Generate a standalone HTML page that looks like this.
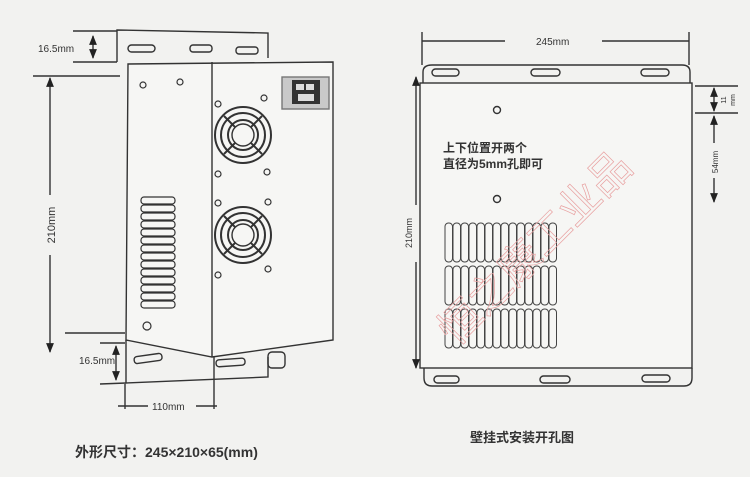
<!DOCTYPE html>
<html><head><meta charset="utf-8"><style>
html,body{margin:0;padding:0;background:#f2f2f0;}
svg{display:block}
text{font-family:"Liberation Sans","Noto Sans CJK SC",sans-serif;fill:#333}
</style></head><body>
<svg width="750" height="477" viewBox="0 0 750 477" xmlns="http://www.w3.org/2000/svg">
<defs>
<marker id="a" viewBox="0 0 10 10" refX="9" refY="5" markerWidth="7" markerHeight="7" orient="auto-start-reverse"><path d="M0,1 L10,5 L0,9 z" fill="#222"/></marker>
</defs>
<rect width="750" height="477" fill="#f2f2f0"/>
<g stroke="#333" stroke-width="1.4" fill="none">
<path d="M117,62 L117,30 L268,33 L268,58"/>
<rect x="128" y="45" width="27" height="7" rx="3.5"/>
<rect x="190" y="45" width="22" height="7" rx="3"/>
<rect x="236" y="47" width="22" height="7" rx="3"/>
<path d="M128,64 L333,62 L333,340 L212,357 L126,340 Z" fill="#f6f6f4"/>
<line x1="212" y1="62" x2="212" y2="357"/>
<rect x="282" y="77" width="47" height="32" fill="#c9c9c9" stroke="#777"/>
<rect x="292" y="80" width="28" height="24" fill="#333" stroke="none"/>
<rect x="296" y="84" width="8" height="6" fill="#ddd" stroke="none"/>
<rect x="306" y="84" width="8" height="6" fill="#ddd" stroke="none"/>
<rect x="298" y="94" width="16" height="7" fill="#ddd" stroke="none"/>
<g stroke-width="2">
<circle cx="243" cy="135" r="28"/><circle cx="243" cy="135" r="22"/><circle cx="243" cy="135" r="15"/>
<line x1="224" y1="116" x2="262" y2="154"/><line x1="262" y1="116" x2="224" y2="154"/>
<circle cx="243" cy="235" r="28"/><circle cx="243" cy="235" r="22"/><circle cx="243" cy="235" r="15"/>
<line x1="224" y1="216" x2="262" y2="254"/><line x1="262" y1="216" x2="224" y2="254"/>
</g>
<circle cx="243" cy="135" r="11" fill="#f6f6f4" stroke-width="1.4"/>
<circle cx="243" cy="235" r="11" fill="#f6f6f4" stroke-width="1.4"/>
<g stroke-width="1.2">
<circle cx="143" cy="85" r="3"/><circle cx="180" cy="82" r="3"/>
<circle cx="218" cy="104" r="3"/><circle cx="264" cy="98" r="3"/>
<circle cx="218" cy="174" r="3"/><circle cx="267" cy="172" r="3"/>
<circle cx="218" cy="203" r="3"/><circle cx="268" cy="202" r="3"/>
<circle cx="218" cy="275" r="3"/><circle cx="268" cy="269" r="3"/>
<circle cx="147" cy="326" r="4"/>
</g>
<g stroke-width="1.2">
<rect x="141" y="197" width="34" height="7" rx="3"/><rect x="141" y="205" width="34" height="7" rx="3"/>
<rect x="141" y="213" width="34" height="7" rx="3"/><rect x="141" y="221" width="34" height="7" rx="3"/>
<rect x="141" y="229" width="34" height="7" rx="3"/><rect x="141" y="237" width="34" height="7" rx="3"/>
<rect x="141" y="245" width="34" height="7" rx="3"/><rect x="141" y="253" width="34" height="7" rx="3"/>
<rect x="141" y="261" width="34" height="7" rx="3"/><rect x="141" y="269" width="34" height="7" rx="3"/>
<rect x="141" y="277" width="34" height="7" rx="3"/><rect x="141" y="285" width="34" height="7" rx="3"/>
<rect x="141" y="293" width="34" height="7" rx="3"/><rect x="141" y="301" width="34" height="7" rx="3"/>
</g>
<path d="M126,340 L126,383 L268,377 L268,357"/>
<line x1="100" y1="384" x2="126" y2="383"/>
<rect x="134" y="355" width="28" height="7" rx="3" transform="rotate(-8 148 358)"/>
<rect x="216" y="359" width="29" height="7" rx="3" transform="rotate(-4 230 362)"/>
<rect x="268" y="352" width="17" height="16" rx="4"/>
<line x1="73" y1="31" x2="117" y2="31"/><line x1="73" y1="62" x2="117" y2="62"/>
<line x1="93" y1="36" x2="93" y2="58" marker-start="url(#a)" marker-end="url(#a)"/>
<line x1="33" y1="76" x2="120" y2="76"/><line x1="65" y1="333" x2="125" y2="333"/>
<line x1="50" y1="78" x2="50" y2="195" marker-start="url(#a)"/><line x1="50" y1="255" x2="50" y2="352" marker-end="url(#a)"/>
<line x1="100" y1="343" x2="125" y2="343"/>
<line x1="116" y1="346" x2="116" y2="380" marker-start="url(#a)" marker-end="url(#a)"/>
<line x1="125" y1="384" x2="125" y2="409"/><line x1="214" y1="357" x2="214" y2="409"/>
<line x1="118" y1="406" x2="148" y2="406"/><line x1="196" y1="406" x2="217" y2="406"/>
</g>
<text x="38" y="52" font-size="10">16.5mm</text>
<text x="79" y="364" font-size="10">16.5mm</text>
<text x="152" y="410" font-size="10">110mm</text>
<text transform="translate(55,225) rotate(-90)" font-size="11" text-anchor="middle">210mm</text>
<text x="75" y="457" font-size="14" font-weight="bold" fill="#444">外形尺寸：245×210×65(mm)</text>

<g stroke="#333" stroke-width="1.4" fill="none">
<line x1="422" y1="32" x2="422" y2="65"/><line x1="689" y1="32" x2="689" y2="65"/>
<line x1="422" y1="41" x2="505" y2="41"/><line x1="602" y1="41" x2="689" y2="41"/>
<path d="M423,83 L423,72 Q423,65 432,65 L682,65 Q690,65 690,72 L690,83"/>
<rect x="432" y="69" width="27" height="7" rx="3.5"/><rect x="531" y="69" width="29" height="7" rx="3.5"/><rect x="641" y="69" width="28" height="7" rx="3.5"/>
<rect x="420" y="83" width="272" height="285" fill="#f6f6f4"/>
<path d="M424,368 L424,378 Q424,386 432,386 L684,386 Q692,386 692,378 L692,368"/>
<rect x="434" y="376" width="25" height="7" rx="3.5"/><rect x="540" y="376" width="30" height="7" rx="3.5"/><rect x="642" y="375" width="28" height="7" rx="3.5"/>
<circle cx="497" cy="110" r="3.5"/><circle cx="497" cy="199" r="3.5"/>
<line x1="416" y1="77" x2="416" y2="205" marker-start="url(#a)"/><line x1="416" y1="262" x2="416" y2="368" marker-end="url(#a)"/>
<line x1="695" y1="86" x2="738" y2="86"/><line x1="695" y1="113" x2="738" y2="113"/>
<line x1="714" y1="88" x2="714" y2="111" marker-start="url(#a)" marker-end="url(#a)"/>
<line x1="714" y1="116" x2="714" y2="143" marker-start="url(#a)"/><line x1="714" y1="178" x2="714" y2="202" marker-end="url(#a)"/>
</g>
<g stroke="#444" stroke-width="1" fill="none" id="v">
<rect x="445" y="223" width="7.5" height="39" rx="3.5"/><rect x="453" y="223" width="7.5" height="39" rx="3.5"/><rect x="461" y="223" width="7.5" height="39" rx="3.5"/><rect x="469" y="223" width="7.5" height="39" rx="3.5"/><rect x="477" y="223" width="7.5" height="39" rx="3.5"/><rect x="485" y="223" width="7.5" height="39" rx="3.5"/><rect x="493" y="223" width="7.5" height="39" rx="3.5"/><rect x="501" y="223" width="7.5" height="39" rx="3.5"/><rect x="509" y="223" width="7.5" height="39" rx="3.5"/><rect x="517" y="223" width="7.5" height="39" rx="3.5"/><rect x="525" y="223" width="7.5" height="39" rx="3.5"/><rect x="533" y="223" width="7.5" height="39" rx="3.5"/><rect x="541" y="223" width="7.5" height="39" rx="3.5"/><rect x="549" y="223" width="7.5" height="39" rx="3.5"/>
</g>
<use href="#v" y="43"/><use href="#v" y="86"/>
<text x="443" y="152" font-size="12" font-weight="bold" fill="#444">上下位置开两个</text>
<text x="443" y="168" font-size="12" font-weight="bold" fill="#444">直径为5mm孔即可</text>
<text x="536" y="45" font-size="10">245mm</text>
<text transform="translate(412,233) rotate(-90)" font-size="9" text-anchor="middle">210mm</text>
<text transform="translate(726,100) rotate(-90)" font-size="7" text-anchor="middle">11</text>
<text transform="translate(735,100) rotate(-90)" font-size="7" text-anchor="middle">mm</text>
<text transform="translate(718,162) rotate(-90)" font-size="8" text-anchor="middle">54mm</text>
<text x="470" y="442" font-size="13" font-weight="bold" fill="#444">壁挂式安装开孔图</text>
<text transform="translate(545,258) rotate(-45)" font-size="42" text-anchor="middle" stroke="#e8a0a0" stroke-width="0.7" style="fill:none">恒之康工业品</text>
</svg>
</body></html>
